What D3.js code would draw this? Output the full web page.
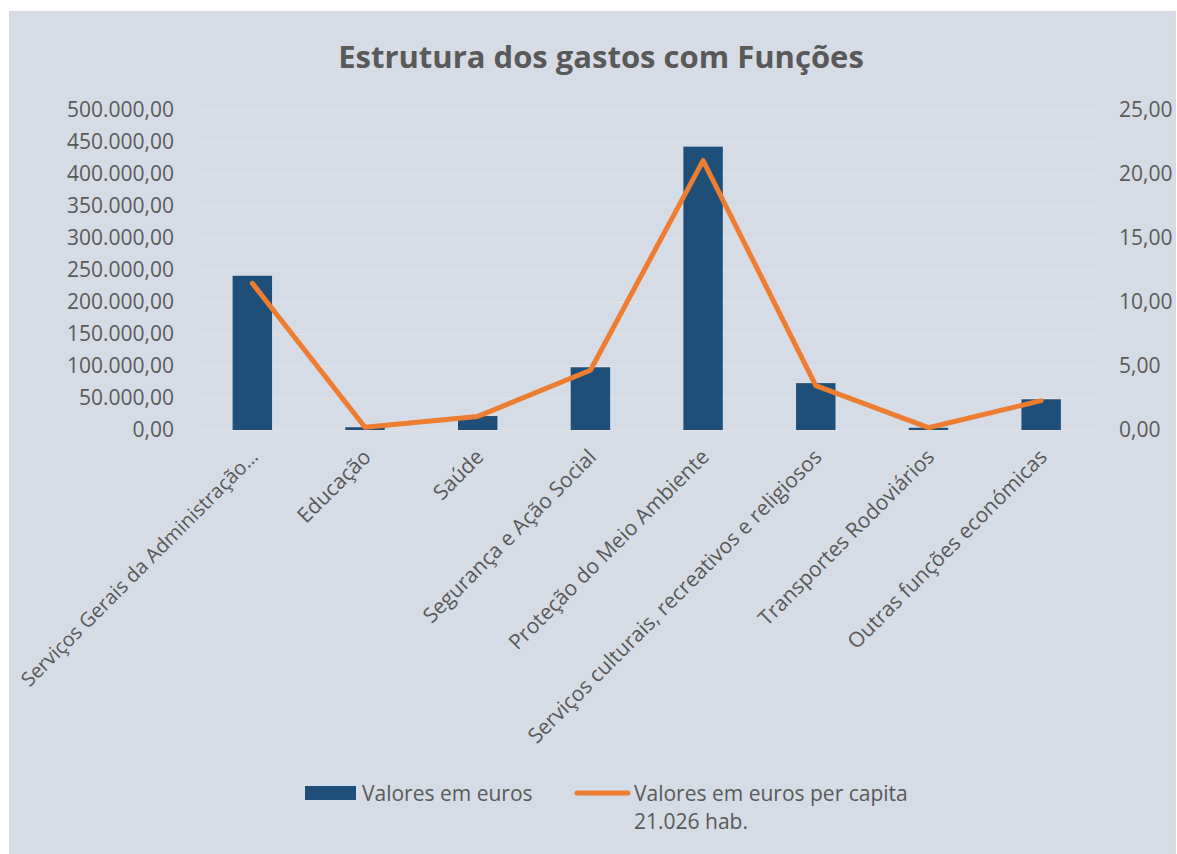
<!DOCTYPE html>
<html>
<head>
<meta charset="utf-8">
<script src="https://cdn.jsdelivr.net/npm/d3@7"></script>
<style>
  body { margin: 0; background: #ffffff; }
  text { font-family: "Open Sans", sans-serif; fill: #595959; }
</style>
</head>
<body>
<svg id="chart-svg"></svg>
<script>
const WIDTH = 1177;
const HEIGHT = 854;

const categories = [
    'Serviços Gerais da Administração…',
    'Educação',
    'Saúde',
    'Segurança e Ação Social',
    'Proteção do Meio Ambiente',
    'Serviços culturais, recreativos e religiosos',
    'Transportes Rodoviários',
    'Outras funções económicas'
];
const valoresEuros = [241000, 4300, 21800, 98000, 442700, 73200, 3500, 48000];
const valoresPerCapita = [11.46, 0.21, 1.06, 4.67, 21.05, 3.47, 0.18, 2.29];
const leftTicks = [0, 50000, 100000, 150000, 200000, 250000, 300000, 350000, 400000, 450000, 500000];
const rightTicks = [0, 5, 10, 15, 20, 25];
const seriesNames = [['Valores em euros'], ['Valores em euros per capita', '21.026 hab.']];
const title = 'Estrutura dos gastos com Funções';

const BAR_COLOR = '#1f4e79';
const LINE_COLOR = '#ed7d31';

// pt-PT style number format: 450.000,00
const fmt = d3.formatLocale({ decimal: ',', thousands: '.', grouping: [3], currency: ['€', ''] }).format(',.2f');

const svg = d3.select('#chart-svg')
    .attr('width', WIDTH)
    .attr('height', HEIGHT);

svg.append('rect')
    .attr('x', 9.5)
    .attr('y', 11.5)
    .attr('width', 1166)
    .attr('height', 860)
    .attr('fill', '#d6dce5')
    .attr('stroke', '#d9d9d9');

svg.append('text')
    .attr('x', 601)
    .attr('y', 68)
    .attr('text-anchor', 'middle')
    .style('font-size', '31px')
    .style('font-weight', 'bold')
    .text(title);

const xScale = d3.scaleBand()
    .domain(categories)
    .range([196, 1097.5]);

const yLeft = d3.scaleLinear()
    .domain([0, 500000])
    .range([430, 110]);

const yRight = d3.scaleLinear()
    .domain([0, 25])
    .range([430, 110]);

const barWidth = xScale.bandwidth() * 0.35;
const center = d => xScale(d) + xScale.bandwidth() / 2;

// gridlines
svg.append('g')
    .selectAll('line')
    .data(leftTicks)
    .join('line')
    .attr('x1', 196)
    .attr('x2', 1097.5)
    .attr('y1', d => Math.round(yLeft(d)) + 0.5)
    .attr('y2', d => Math.round(yLeft(d)) + 0.5)
    .attr('stroke', '#e2e2e2')
    .attr('stroke-width', 1);

// left axis
const leftAxis = svg.append('g')
    .attr('transform', 'translate(174, 0)')
    .call(d3.axisLeft(yLeft).tickValues(leftTicks).tickFormat(fmt).tickSize(0).tickPadding(0));
leftAxis.select('.domain').remove();
leftAxis.selectAll('text')
    .style('font-size', '21px')
    .style('font-family', '"Open Sans", sans-serif')
    .attr('fill', '#595959');

// right axis
const rightAxis = svg.append('g')
    .attr('transform', 'translate(1119, 0)')
    .call(d3.axisRight(yRight).tickValues(rightTicks).tickFormat(fmt).tickSize(0).tickPadding(0));
rightAxis.select('.domain').remove();
rightAxis.selectAll('text')
    .style('font-size', '21px')
    .style('font-family', '"Open Sans", sans-serif')
    .attr('fill', '#595959');

// category labels, rotated (the truncated one is a bit smaller so it stays inside)
svg.append('g')
    .selectAll('text')
    .data(categories)
    .join('text')
    .attr('transform', d => `translate(${center(d) + 2}, 453) rotate(-45)`)
    .attr('text-anchor', 'end')
    .attr('dy', '0.35em')
    .style('font-size', d => d.endsWith('…') ? '20px' : '21px')
    .text(d => d);

// bars
svg.append('g')
    .selectAll('rect')
    .data(categories)
    .join('rect')
    .attr('x', d => center(d) - barWidth / 2)
    .attr('y', (d, i) => yLeft(valoresEuros[i]))
    .attr('width', barWidth)
    .attr('height', (d, i) => yLeft(0) - yLeft(valoresEuros[i]))
    .attr('fill', BAR_COLOR);

// per capita line
const line = d3.line()
    .x((d, i) => center(categories[i]))
    .y(d => yRight(d));

svg.append('path')
    .datum(valoresPerCapita)
    .attr('d', line)
    .attr('fill', 'none')
    .attr('stroke', LINE_COLOR)
    .attr('stroke-width', 5)
    .attr('stroke-linejoin', 'round')
    .attr('stroke-linecap', 'round');

// legend
const legend = svg.append('g');

legend.append('rect')
    .attr('x', 305)
    .attr('y', 786)
    .attr('width', 51)
    .attr('height', 14)
    .attr('fill', BAR_COLOR);

legend.append('line')
    .attr('x1', 577)
    .attr('x2', 628)
    .attr('y1', 793)
    .attr('y2', 793)
    .attr('stroke', LINE_COLOR)
    .attr('stroke-width', 5)
    .attr('stroke-linecap', 'round');

const legendX = [362, 634];
seriesNames.forEach((lines, k) => {
    const t = legend.append('text')
        .attr('x', legendX[k])
        .attr('y', 801)
        .style('font-size', '21px');
    lines.forEach((s, j) => {
        t.append('tspan')
            .attr('x', legendX[k])
            .attr('dy', j === 0 ? 0 : 28)
            .text(s);
    });
});
</script>
</body>
</html>
